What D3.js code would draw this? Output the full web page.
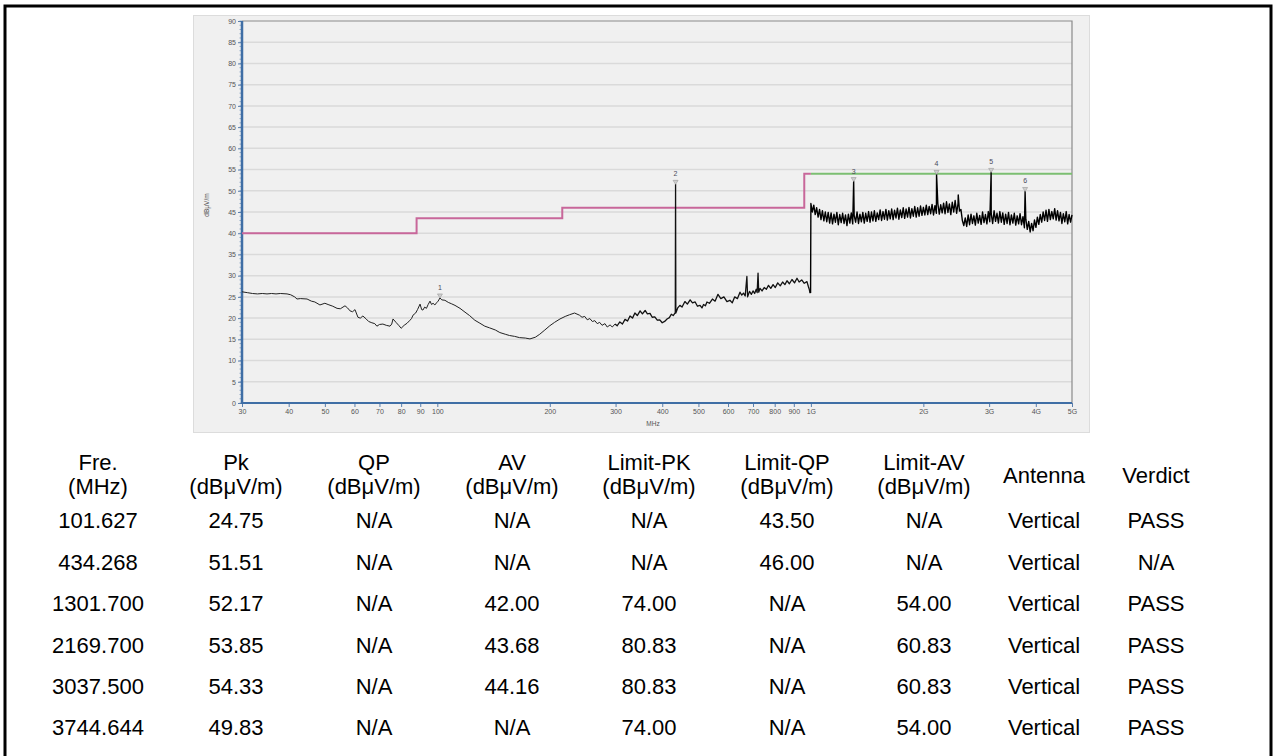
<!DOCTYPE html>
<html>
<head>
<meta charset="utf-8">
<script src="https://cdn.jsdelivr.net/npm/d3@7"></script>
<style>
  body { margin: 0; background: #fff; }
  svg { display: block; font-family: "Liberation Sans", Arial, sans-serif; }
</style>
</head>
<body>
<svg id="chart" width="1274" height="756"></svg>
<script>
// axis ticks
const yTicks = [0, 5, 10, 15, 20, 25, 30, 35, 40, 45, 50, 55, 60, 65, 70, 75, 80, 85, 90];
const xTicks = [30, 40, 50, 60, 70, 80, 90, 100, 200, 300, 400, 500, 600, 700, 800, 900, 1000, 2000, 3000, 4000, 5000];
const xTickLabels = ["30", "40", "50", "60", "70", "80", "90", "100", "200", "300", "400", "500", "600", "700", "800", "900", "1G", "2G", "3G", "4G", "5G"];

// limit lines: [from MHz, to MHz, level]
const limitQP = [[30, 88, 40], [88, 216, 43.5], [216, 960, 46], [960, 1000, 54]];
const limitAV = [[1000, 5000, 54]];

// measured trace below 1 GHz: [MHz, dBuV/m]
const sweepLow = [
  [30, 26.2], [31, 26.0], [32, 25.8], [33, 25.7], [34, 25.8], [35, 25.7], [36, 25.8], [37, 25.7],
  [38, 25.8], [39.6, 25.7], [40.5, 25.5], [41.5, 25.0], [42.1, 24.5], [43, 24.6], [44.8, 24.5],
  [46, 24.0], [47, 23.8], [48.5, 23.1], [50, 23.5], [51, 23.2], [52.5, 22.8], [53.9, 22.3],
  [55, 22.2], [56.6, 22.9], [57.5, 22.4], [58.4, 21.7], [59.3, 21.5], [60.2, 22.0], [61.3, 20.2],
  [62.2, 20.0], [63.2, 20.5], [64.5, 19.8], [65.5, 19.2], [66.8, 18.9], [68, 18.7], [68.9, 18.1],
  [70, 18.5], [71.5, 18.6], [73, 18.3], [74.7, 18.1], [75.5, 18.6], [76.1, 19.8], [77.5, 19.0],
  [79, 18.2], [80, 17.6], [81.5, 18.3], [83, 18.8], [84.5, 19.5], [85.3, 19.9], [86.1, 20.7],
  [87.5, 21.2], [88.5, 22.0], [89.9, 23.3], [90.8, 22.0], [91.5, 21.9], [92.5, 22.6], [93.5, 22.3],
  [94.5, 23.2], [95.6, 24.0], [96.5, 23.2], [97.4, 23.5], [98.5, 23.1], [99.5, 23.6], [100.5, 24.0],
  [102.8, 24.3], [104.8, 24.2], [107, 23.7], [109, 23.4], [111.5, 23.0], [115, 22.3], [118.6, 21.4],
  [122, 20.6], [126, 19.5], [130, 18.8], [134, 18.1], [138, 17.7], [143, 17.2], [147, 16.6],
  [152, 16.2], [156, 15.9], [161, 15.7], [166, 15.4], [172, 15.3], [177, 15.1], [183, 15.5],
  [188, 16.2], [194, 17.2], [200, 18.2], [206, 19.0], [213, 19.8], [220, 20.4], [226, 20.8],
  [233, 21.2], [240, 20.7], [244, 20.2], [248, 20.4], [252, 19.6], [256, 19.9], [260, 19.2],
  [264, 19.4], [268, 18.7], [272, 19.0], [276, 18.3], [281, 18.7], [285, 17.9], [290, 18.4],
  [294, 17.9], [299, 18.6], [303, 18.2], [308, 19.1], [313, 18.6], [318, 19.7], [323, 19.3],
  [328, 20.5], [333, 20.0], [338, 21.2], [343, 20.6], [349, 21.7], [354, 21.0], [360, 21.8],
  [365, 21.0], [371, 21.1], [376, 20.2], [382, 20.3], [388, 19.5], [394, 19.6], [400, 18.9],
  [407, 19.3], [412, 19.8], [418, 20.1], [423, 20.9], [428, 20.6], [433.5, 21.3], [435, 21.2],
  [440, 22.4], [446, 23.0], [452, 22.6], [460, 23.9], [467, 23.3], [475, 24.3], [482, 23.6],
  [490, 23.8], [497, 22.8], [505, 23.0], [511, 22.4], [516, 23.2], [522, 22.9], [527, 23.8],
  [535, 23.5], [545, 24.5], [554, 24.0], [564, 25.6], [574, 24.6], [585, 25.0], [596, 23.9],
  [607, 24.2], [616, 23.6], [625, 25.0], [636, 24.6], [646, 26.1], [653, 25.4], [660, 25.9],
  [667, 25.2], [674, 29.8], [677, 25.0], [685, 26.3], [693, 25.6], [700, 26.4], [707, 25.8],
  [714, 26.8], [718, 26.0], [722, 30.6], [725, 26.1], [731, 27.0], [740, 26.4], [750, 27.2],
  [760, 26.8], [770, 27.7], [781, 27.0], [792, 27.9], [803, 27.2], [815, 28.3], [828, 27.6],
  [840, 28.5], [852, 27.9], [863, 28.8], [876, 28.1], [890, 29.1], [904, 28.3], [918, 29.4],
  [930, 28.5], [945, 29.0], [960, 28.2], [976, 28.6], [985, 27.4], [990, 26.8], [994, 26.0],
  [998, 25.9]
];

// measured trace 1-5 GHz, sweep points evenly spaced on the log axis
const sweepHighRange = [1000, 5000];
const sweepHigh = [
  47.0, 45.0, 46.6, 44.4, 46.0, 43.8, 45.6, 43.2, 45.3, 42.9, 45.0, 42.7, 44.9,
  42.4, 44.8, 42.2, 44.5, 42.6, 44.9, 42.0, 44.4, 42.5, 44.7, 42.3, 44.3, 41.8, 44.5,
  42.4, 44.8, 42.2, 44.2, 42.6, 45.0, 42.3, 44.5, 42.7, 44.9, 42.4, 44.7, 42.8, 45.1,
  42.6, 45.0, 42.9, 45.3, 42.8, 44.8, 43.2, 45.5, 43.0, 45.1, 43.3, 45.6, 43.1, 45.3,
  43.4, 45.7, 43.2, 45.4, 43.6, 45.9, 43.3, 45.5, 43.7, 46.0, 43.5, 45.7, 43.8, 46.1,
  43.6, 45.8, 44.0, 46.3, 43.8,
  46.0, 44.0, 46.4, 44.2, 46.1, 44.3, 46.6, 44.4, 46.3, 44.6, 46.8, 44.3, 46.5, 44.7,
  47.0, 44.5, 46.7, 44.8, 47.1, 44.6, 47.4, 44.9, 46.9, 44.4, 47.3, 45.0, 47.7, 44.7,
  47.0, 45.2,
  45.6, 43.0, 41.8, 43.6,
  41.6, 44.3, 42.0, 44.5, 42.3, 44.1, 41.9, 44.7, 42.4, 44.2, 42.1, 45.0, 42.5, 44.4,
  42.2, 45.1, 42.7, 44.6, 42.3, 45.3, 42.8, 44.7, 42.4, 45.1,
  42.6, 44.8, 42.1, 44.5, 42.3, 44.9, 42.0, 44.3, 42.4, 44.7, 41.9, 44.1, 42.2, 44.6,
  42.0, 43.9, 41.3, 43.3, 40.9, 42.8, 40.3, 42.3, 40.6, 43.1, 41.4, 43.8, 42.1, 44.4,
  42.6, 45.0, 43.0, 45.4, 42.8, 45.6, 43.2, 45.1, 43.4, 45.8, 43.1, 45.3, 42.9, 44.9,
  42.3, 44.6, 42.7, 45.1, 42.2, 44.4, 42.6, 44.3
];
// peaks in the trace that carry no marker
const extraSpikes = [[2480, 49.0]];

// result table
const headers = [["Fre.", "(MHz)"], ["Pk", "(dBμV/m)"], ["QP", "(dBμV/m)"], ["AV", "(dBμV/m)"],
  ["Limit-PK", "(dBμV/m)"], ["Limit-QP", "(dBμV/m)"], ["Limit-AV", "(dBμV/m)"], ["Antenna"], ["Verdict"]];
const freqs = ["101.627", "434.268", "1301.700", "2169.700", "3037.500", "3744.644"];
const pk = ["24.75", "51.51", "52.17", "53.85", "54.33", "49.83"];
const qp = ["N/A", "N/A", "N/A", "N/A", "N/A", "N/A"];
const av = ["N/A", "N/A", "42.00", "43.68", "44.16", "N/A"];
const limitPk = ["N/A", "N/A", "74.00", "80.83", "80.83", "74.00"];
const limitQp = ["43.50", "46.00", "N/A", "N/A", "N/A", "N/A"];
const limitAv = ["N/A", "N/A", "54.00", "60.83", "60.83", "54.00"];
const antenna = ["Vertical", "Vertical", "Vertical", "Vertical", "Vertical", "Vertical"];
const verdict = ["PASS", "N/A", "PASS", "PASS", "PASS", "PASS"];

const svg = d3.select("#chart");

// outer frame
svg.append("rect")
  .attr("x", 5).attr("y", 6).attr("width", 1266).attr("height", 770)
  .attr("fill", "none").attr("stroke", "#000").attr("stroke-width", 3);

// chart panel
svg.append("rect")
  .attr("x", 193.5).attr("y", 15.5).attr("width", 896).attr("height", 417)
  .attr("fill", "#f0f0f0").attr("stroke", "#dcdcdc");

const plot = { left: 242, right: 1072, top: 21, bottom: 403 };

const x = d3.scaleLog().domain([30, 5000]).range([plot.left, plot.right]);
const y = d3.scaleLinear().domain([0, 90]).range([plot.bottom, plot.top]);

const g = svg.append("g");

// grid
g.append("g")
  .selectAll("line")
  .data(yTicks.filter(d => d > 0 && d < 90))
  .join("line")
  .attr("x1", plot.left).attr("x2", plot.right)
  .attr("y1", d => y(d)).attr("y2", d => y(d))
  .attr("stroke", "#dadada").attr("stroke-width", 1.5);

// plot frame top / right
g.append("path")
  .attr("d", `M${plot.left},${plot.top}H${plot.right}V${plot.bottom}`)
  .attr("fill", "none").attr("stroke", "#8a8a8a").attr("stroke-width", 1.2);

// minor y ticks
g.append("g")
  .selectAll("line")
  .data(d3.range(0, 91, 1))
  .join("line")
  .attr("x1", plot.left - 2.5).attr("x2", plot.left)
  .attr("y1", d => y(d)).attr("y2", d => y(d))
  .attr("stroke", "#7d9cc0").attr("stroke-width", 0.8);

function customYAxis(s) {
  s.call(d3.axisLeft(y).tickValues(yTicks).tickSize(4).tickPadding(2));
  s.select(".domain").remove();
  s.selectAll(".tick line").attr("stroke", "#5a7fae");
  s.selectAll(".tick text").attr("fill", "#555").attr("font-size", 7);
}

function customXAxis(s) {
  s.call(d3.axisBottom(x).tickValues(xTicks).tickFormat((d, i) => xTickLabels[i]).tickSize(4).tickPadding(2));
  s.select(".domain").remove();
  s.selectAll(".tick line").attr("stroke", "#5a7fae");
  s.selectAll(".tick text").attr("fill", "#555").attr("font-size", 7);
}

g.append("g").attr("transform", `translate(${plot.left},0)`).call(customYAxis);
g.append("g").attr("transform", `translate(0,${plot.bottom})`).call(customXAxis);

// blue axis lines
g.append("line")
  .attr("x1", plot.left).attr("x2", plot.left).attr("y1", plot.top).attr("y2", plot.bottom + 1)
  .attr("stroke", "#3f6ea5").attr("stroke-width", 2.5);
g.append("line")
  .attr("x1", plot.left).attr("x2", plot.right).attr("y1", plot.bottom).attr("y2", plot.bottom)
  .attr("stroke", "#3f6ea5").attr("stroke-width", 2);

// axis titles
svg.append("text")
  .attr("transform", `translate(209,205) rotate(-90)`)
  .attr("text-anchor", "middle").attr("font-size", 6.5).attr("fill", "#555")
  .text("dBμV/m");
svg.append("text")
  .attr("x", 653).attr("y", 426)
  .attr("text-anchor", "middle").attr("font-size", 6.5).attr("fill", "#555")
  .text("MHz");

// limit lines
function stepPoints(steps) {
  const pts = [];
  steps.forEach(s => { pts.push([s[0], s[2]]); pts.push([s[1], s[2]]); });
  return pts;
}
const line = d3.line().x(d => x(d[0])).y(d => y(d[1]));

g.append("path")
  .attr("d", line(stepPoints(limitQP)))
  .attr("fill", "none").attr("stroke", "#c8679a").attr("stroke-width", 2);
g.append("path")
  .attr("d", line(stepPoints(limitAV)))
  .attr("fill", "none").attr("stroke", "#7cbf72").attr("stroke-width", 2);

// measured trace
const markers = freqs.map((f, i) => ({ id: i + 1, f: +f, v: +pk[i] }));
const nHigh = sweepHigh.length;
const highPts = sweepHigh.map((v, i) => [
  sweepHighRange[0] * Math.pow(sweepHighRange[1] / sweepHighRange[0], i / (nHigh - 1)), v
]);
const trace = sweepLow
  .concat(highPts)
  .concat(extraSpikes)
  .concat(markers.map(m => [m.f, m.v]))
  .sort((a, b) => a[0] - b[0]);

// thin below ~300 MHz, denser/heavier band above
g.append("path")
  .attr("d", line(trace.filter(d => d[0] <= 300)))
  .attr("fill", "none").attr("stroke", "#222").attr("stroke-width", 1)
  .attr("stroke-linejoin", "round");
g.append("path")
  .attr("d", line(trace.filter(d => d[0] >= 299 && d[0] < 1000)))
  .attr("fill", "none").attr("stroke", "#111").attr("stroke-width", 1.3)
  .attr("stroke-linejoin", "round");
g.append("path")
  .attr("d", line(trace.filter(d => d[0] >= 998)))
  .attr("fill", "none").attr("stroke", "#000").attr("stroke-width", 1.4)
  .attr("stroke-linejoin", "round");

// markers
const mk = g.append("g").selectAll("g").data(markers).join("g")
  .attr("transform", d => `translate(${x(d.f)},${y(d.v)})`);
mk.append("path")
  .attr("d", "M-2.5,-4L2.5,-4L0,0Z")
  .attr("fill", "#cfcfcf").attr("stroke", "#999").attr("stroke-width", 0.6);
mk.append("text")
  .attr("y", -8).attr("text-anchor", "middle")
  .attr("font-size", 7).attr("fill", "#4a4a5a")
  .text(d => d.id);

// table
const colX = [98, 236, 374, 512, 649, 787, 924, 1044, 1156];
const columns = [freqs, pk, qp, av, limitPk, limitQp, limitAv, antenna, verdict];
const tbl = svg.append("g").attr("font-size", 22).attr("fill", "#000").attr("text-anchor", "middle");

headers.forEach((h, c) => {
  if (h.length === 2) {
    tbl.append("text").attr("x", colX[c]).attr("y", 470).text(h[0]);
    tbl.append("text").attr("x", colX[c]).attr("y", 494).text(h[1]);
  } else {
    tbl.append("text").attr("x", colX[c]).attr("y", 483).text(h[0]);
  }
});

const rowY = [528, 570, 611, 653, 694, 735];
columns.forEach((col, c) => {
  col.forEach((v, r) => {
    tbl.append("text").attr("x", colX[c]).attr("y", rowY[r]).text(v);
  });
});
</script>
</body>
</html>
